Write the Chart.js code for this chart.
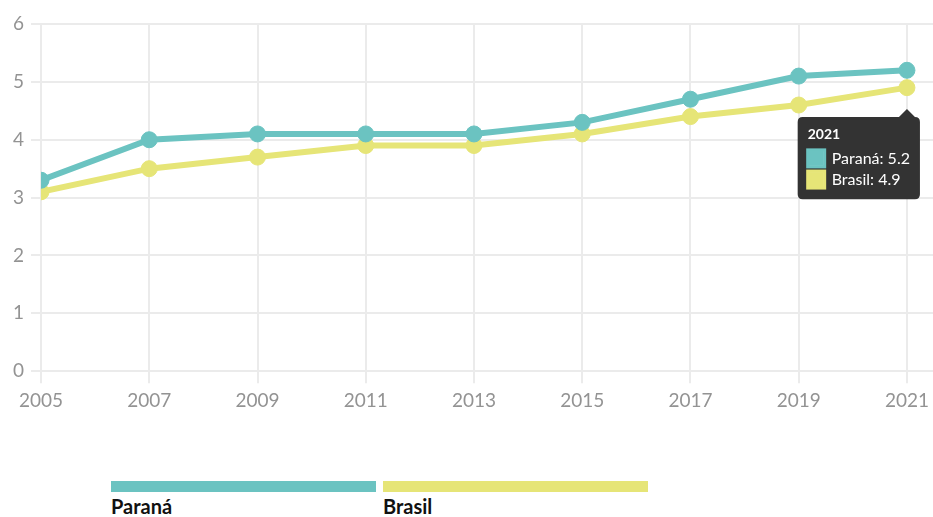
<!DOCTYPE html>
<html>
<head>
<meta charset="utf-8">
<script src="https://cdn.jsdelivr.net/npm/chart.js@4"></script>
<style>
  body{margin:0;background:#fff;font-family:Lato,sans-serif;}
  #wrap{position:relative;width:933px;height:517px;overflow:hidden;}
  #chartBox{position:absolute;left:0;top:0;width:943px;height:420px;}
  #legend{position:absolute;left:111px;top:481px;display:flex;}
  .item{width:265px;margin-right:7px;}
  .item .bar{height:11px;}
  .item .lbl{font-weight:bold;font-size:20px;color:#111;margin-top:3px;line-height:22px;}
</style>
</head>
<body>
<div id="wrap">
  <div id="chartBox"><canvas id="chart"></canvas></div>
  <div id="legend"></div>
</div>
<script>
const years = [2005, 2007, 2009, 2011, 2013, 2015, 2017, 2019, 2021];
const parana = [3.3, 4.0, 4.1, 4.1, 4.1, 4.3, 4.7, 5.1, 5.2];
const brasil = [3.1, 3.5, 3.7, 3.9, 3.9, 4.1, 4.4, 4.6, 4.9];
const yTicks = [0, 1, 2, 3, 4, 5, 6];

const teal = '#6bc3c1';
const yellow = '#e6e577';
const gridColor = '#ebebeb';
const tickColor = '#939393';

Chart.defaults.font.family = 'Lato, sans-serif';

function lineSet(label, data, color){
  return {
    label, data,
    borderColor: color, backgroundColor: color,
    borderWidth: 6,
    pointRadius: 8, pointHoverRadius: 8,
    pointBorderWidth: 1, pointHoverBorderWidth: 1,
    pointBackgroundColor: color, pointBorderColor: color,
    pointHoverBackgroundColor: color, pointHoverBorderColor: color,
    tension: 0
  };
}

const chart = new Chart(document.getElementById('chart'), {
  type: 'line',
  data: {
    labels: years,
    datasets: [lineSet('Paraná', parana, teal), lineSet('Brasil', brasil, yellow)]
  },
  options: {
    responsive: true,
    maintainAspectRatio: false,
    animation: false,
    layout: {padding: {left: 6, top: 24, right: 0, bottom: 2}},
    interaction: {mode: 'index', intersect: false},
    scales: {
      x: {
        type: 'linear', min: 2005, max: 2021.5,
        afterBuildTicks: s => { s.ticks = years.map(v => ({value: v})); },
        grid: {color: gridColor, lineWidth: 2, tickLength: 12},
        border: {display: false},
        ticks: {color: tickColor, font: {size: 19}, padding: 6, maxRotation: 0, callback: v => String(v)}
      },
      y: {
        min: 0, max: 6,
        afterBuildTicks: s => { s.ticks = yTicks.map(v => ({value: v})); },
        grid: {color: gridColor, lineWidth: 2, tickLength: 10},
        border: {display: false},
        ticks: {color: tickColor, font: {size: 19}, padding: 7}
      }
    },
    plugins: {
      legend: {display: false},
      tooltip: {
        backgroundColor: '#333333',
        xAlign: 'right', yAlign: 'top',
        caretSize: 8, caretPadding: 30, cornerRadius: 5,
        padding: {top: 9, left: 10, right: 10, bottom: 10},
        titleFont: {size: 14, weight: 'bold'}, titleColor: '#fff', titleMarginBottom: 6,
        bodyFont: {size: 16}, bodyColor: '#fff', bodySpacing: 2,
        boxWidth: 17, boxHeight: 17, boxPadding: 5,
        callbacks: {
          title: items => String(items[0].parsed.x),
          label: item => item.dataset.label + ': ' + item.parsed.y,
          labelColor: item => ({borderColor: item.dataset.borderColor, backgroundColor: item.dataset.borderColor, borderWidth: 3})
        }
      }
    }
  }
});

// show the 2021 tooltip
const last = years.length - 1;
const active = chart.data.datasets.map((d, i) => ({datasetIndex: i, index: last}));
chart.setActiveElements(active);
chart.tooltip.setActiveElements(active, {x: chart.scales.x.getPixelForValue(years[last]), y: 80});
chart.update();

// legend
const legend = document.getElementById('legend');
chart.data.datasets.forEach(d => {
  const it = document.createElement('div');
  it.className = 'item';
  it.innerHTML = `<div class="bar" style="background:${d.borderColor}"></div><div class="lbl">${d.label}</div>`;
  legend.appendChild(it);
});
</script>
</body>
</html>
